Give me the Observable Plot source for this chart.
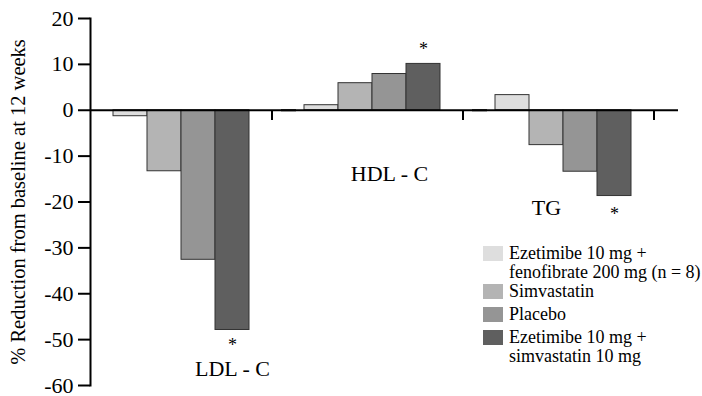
<!DOCTYPE html>
<html>
<head>
<meta charset="utf-8">
<script src="https://cdn.jsdelivr.net/npm/d3@7"></script>
<script src="https://cdn.jsdelivr.net/npm/@observablehq/plot@0.6"></script>
<style>
  html, body { margin: 0; padding: 0; background: #fff; }
  #wrap { position: relative; width: 702px; height: 396px; font-family: "Liberation Serif", "Times New Roman", serif; }
  #wrap svg text { font-family: "Liberation Serif", "Times New Roman", serif; }
  .leg { position: absolute; font-size: 18px; line-height: 19px; color: #000; white-space: nowrap; }
  .sw { position: absolute; width: 20px; height: 15px; }
</style>
</head>
<body>
<div id="wrap"></div>
<script>
const groups = ["LDL - C", "HDL - C", "TG"];
const series = [
  "Ezetimibe 10 mg + fenofibrate 200 mg (n = 8)",
  "Simvastatin",
  "Placebo",
  "Ezetimibe 10 mg + simvastatin 10 mg"
];
const legendLines = [
  ["Ezetimibe 10 mg +", "fenofibrate 200 mg (n = 8)"],
  ["Simvastatin"],
  ["Placebo"],
  ["Ezetimibe 10 mg +", "simvastatin 10 mg"]
];
const colors = ["#dedede", "#b4b4b4", "#959595", "#5f5f5f"];
const ldlValues = [-1.3, -13.3, -32.6, -47.9];
const hdlValues = [1.1, 5.9, 7.9, 10.1];
const tgValues = [3.3, -7.6, -13.4, -18.7];
const yTicks = [20, 10, 0, -10, -20, -30, -40, -50, -60];
const yLabel = "% Reduction from baseline at 12 weeks";
const groupLabels = [
  {group: "LDL - C", series: series[3], value: -56.3},
  {group: "HDL - C", series: series[2], value: -13.8},
  {group: "TG", series: series[1], value: -21.4}
];
const stars = [
  {group: "LDL - C", series: series[3], value: -51.2},
  {group: "HDL - C", series: series[3], value: 13.3},
  {group: "TG", series: series[3], value: -22.7}
];

const valuesByGroup = [ldlValues, hdlValues, tgValues];
const data = groups.flatMap((g, gi) => series.map((s, si) => ({group: g, series: s, value: valuesByGroup[gi][si]})));

const font = "Liberation Serif, Times New Roman, serif";

const chart = Plot.plot({
  width: 702,
  height: 396,
  marginLeft: 90,
  marginRight: 39,
  marginTop: 18,
  marginBottom: 11,
  style: {fontFamily: font, background: "white", color: "black", overflow: "visible"},
  fx: {domain: groups, padding: 0, axis: null},
  x: {domain: series, paddingInner: 0, paddingOuter: 0.729, align: 0.41, axis: null},
  y: {domain: [-60, 20], axis: null},
  color: {domain: series, range: colors},
  marks: [
    Plot.barY(data, {fx: "group", x: "series", y: "value", fill: "series", stroke: "#333", strokeWidth: 1}),
    Plot.ruleY([0], {stroke: "black", strokeWidth: 2, insetRight: -15}),
    Plot.axisFx({anchor: "bottom", tickSize: 10, strokeWidth: 2, tickFormat: () => "", label: null, dx: 86, dy: -275}),
    Plot.axisY({ticks: yTicks, tickSize: 12, tickPadding: 5, strokeWidth: 2, fontSize: 22, fontFamily: font, label: null, tickFormat: d => String(d)}),
    Plot.frame({anchor: "left", stroke: "black", strokeWidth: 2, facetAnchor: "left"}),
    Plot.text([yLabel], {text: d => d, frameAnchor: "left", textAnchor: "middle", rotate: -90, dx: -72, fontSize: 20.5, fontFamily: font, facetAnchor: "left", fill: "black"}),
    Plot.text(groupLabels, {fx: "group", x: "series", y: "value", text: "group", fontSize: 22, fontFamily: font, fill: "black"}),
    Plot.text(stars, {fx: "group", x: "series", y: "value", text: () => "*", fontSize: 18, fontFamily: font, fill: "black"})
  ]
});

const wrap = document.getElementById("wrap");
wrap.appendChild(chart);

// legend overlay
const rowTops = [244, 282, 305, 328];
legendLines.forEach((lines, i) => {
  const sw = document.createElement("div");
  sw.className = "sw";
  sw.style.left = "483px";
  sw.style.top = (rowTops[i] + 2) + "px";
  sw.style.background = colors[i];
  wrap.appendChild(sw);
  const t = document.createElement("div");
  t.className = "leg";
  t.style.left = "509px";
  t.style.top = rowTops[i] + "px";
  t.innerHTML = lines.join("<br>");
  wrap.appendChild(t);
});
</script>
</body>
</html>
